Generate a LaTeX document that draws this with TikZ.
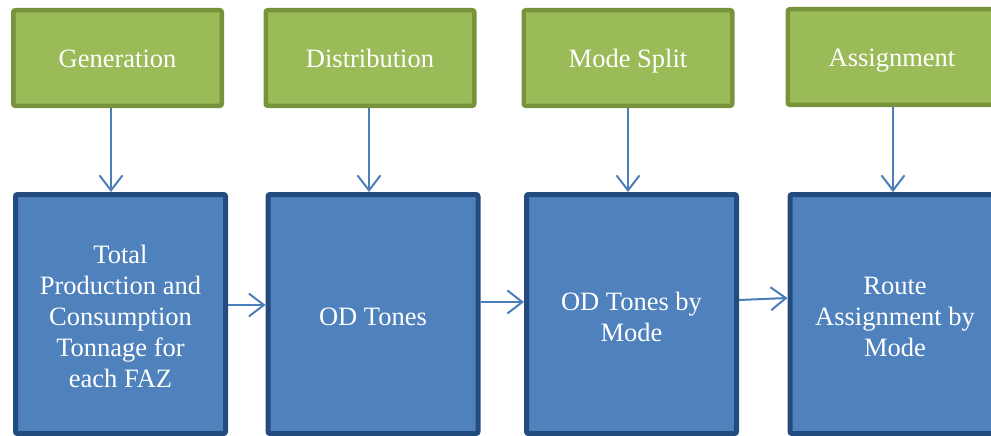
\documentclass[tikz,border=0pt]{standalone}
\usepackage{fontspec}
\setmainfont{Liberation Serif}
\usetikzlibrary{arrows.meta}

\definecolor{stepgreen}{HTML}{9BBB59}
\definecolor{stepgreenedge}{HTML}{77933C}
\definecolor{stepblue}{HTML}{4F81BD}
\definecolor{stepblueedge}{HTML}{244B7E}
\definecolor{flowline}{HTML}{4A7EBB}

\tikzset{
  stagebox/.style={draw=stepgreenedge, fill=stepgreen, line width=4.5pt,
    rounded corners=2pt, minimum width=208.5pt, minimum height=95.5pt,
    inner sep=0pt, text=white, align=center,
    text height=25pt, text depth=5.6pt,
    font=\fontsize{26.5}{31}\selectfont},
  resultbox/.style={draw=stepblueedge, fill=stepblue, line width=5pt,
    rounded corners=2pt, minimum width=210pt, minimum height=239pt,
    inner sep=0pt},
  resulttext/.style={text=white, align=center, inner sep=0pt,
    font=\fontsize{26.5}{31}\selectfont},
  flow/.style={draw=flowline, line width=2pt,
    -{Straight Barb[length=15pt,width=23pt,line width=2pt]}}
}

\begin{document}
\begin{tikzpicture}[x=1pt,y=-1pt]
  \useasboundingbox (0,0) rectangle (991,436);
  \clip (0,0) rectangle (991,436);

  % model stages
  \node[stagebox] (gen)  at (117.5,58) {Generation};
  \node[stagebox] (dist) at (370,58)   {Distribution};
  \node[stagebox] (mode) at (628,58)   {Mode Split};
  \node[stagebox] (asg)  at (892,57)   {Assignment};

  % stage outputs
  \node[resultbox] (prod)  at (120.5,314) {};
  \node[resultbox] (od)    at (373,314)   {};
  \node[resultbox] (odm)   at (631.5,314) {};
  \node[resultbox] (route) at (895,314)   {};

  \node[resulttext] (prodtext)  at ([yshift=-2.5pt]prod.center)
    {Total\\Production and\\Consumption\\Tonnage for\\each FAZ};
  \node[resulttext] (odtext)    at ([yshift=-2.5pt]od.center)    {OD Tones};
  \node[resulttext] (odmtext)   at ([yshift=-2.5pt]odm.center)   {OD Tones by\\Mode};
  \node[resulttext] (routetext) at ([yshift=-2.5pt]route.center) {Route\\Assignment by\\Mode};

  % stage -> output
  \draw[flow] (gen.south -| 111,0)  -- (prod.north -| 111,0);
  \draw[flow] (dist.south -| 369,0) -- (od.north -| 369,0);
  \draw[flow] (mode.south -| 628,0) -- (odm.north -| 628,0);
  \draw[flow] (asg.south -| 893,0)  -- (route.north -| 893,0);

  % output -> next output
  \draw[flow] (prod.east |- 0,305) -- (od.west |- 0,305);
  \draw[flow] (od.east |- 0,302)   -- (odm.west |- 0,302);
  \draw[flow] (odm.east |- 0,300)  -- (route.west |- 0,298);
\end{tikzpicture}
\end{document}
